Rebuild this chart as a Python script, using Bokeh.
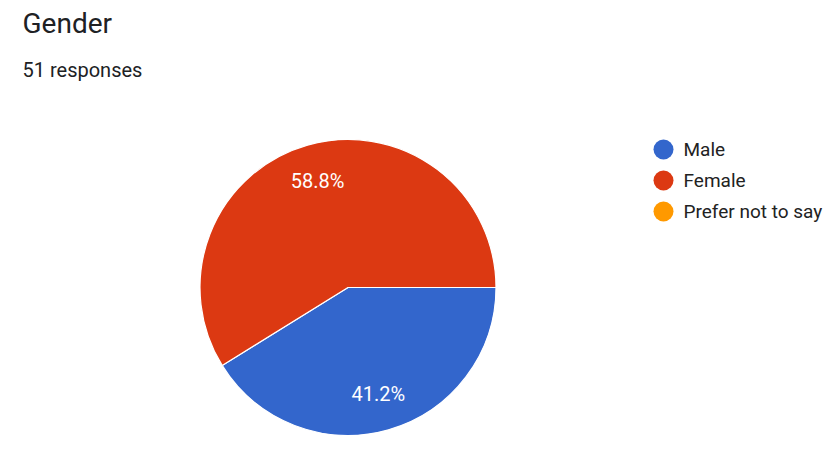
import math
from bokeh.plotting import figure
from bokeh.models import ColumnDataSource, Range1d
from bokeh.core.properties import value
from bokeh.embed import file_html
from bokeh.resources import INLINE

# ---- data ----
title_text = "Gender"
subtitle_text = "51 responses"
categories = ["Male", "Female", "Prefer not to say"]
counts = [21, 30, 0]
colors = ["#3366cc", "#dc3912", "#ff9900"]

# ---- layout constants ----
W, H = 826, 447
CX, CY, R = 347.5, H - 287.0, 148.0
LABEL_R = 0.75 * R
FONT = "Roboto"

p = figure(width=W, height=H, x_range=Range1d(0, W), y_range=Range1d(0, H),
           min_border=0, output_backend="svg", toolbar_location=None)
p.axis.visible = False
p.grid.visible = False
p.outline_line_color = None
p.background_fill_color = "white"
p.border_fill_color = "white"

total = sum(counts)
starts, ends, cols, lx, ly, labels = [], [], [], [], [], []
cum = 0
for c, col in zip(counts, colors):
    if c > 0:
        a0 = -2 * math.pi * (cum + c) / total
        a1 = -2 * math.pi * cum / total
        starts.append(a0)
        ends.append(a1)
        cols.append(col)
        mid = (a0 + a1) / 2
        lx.append(CX + LABEL_R * math.cos(mid))
        ly.append(CY + LABEL_R * math.sin(mid))
        labels.append(f"{100 * c / total:.1f}%")
    cum += c

src = ColumnDataSource(dict(start=starts, end=ends, color=cols))
p.wedge(x=CX, y=CY, radius=R, start_angle="start", end_angle="end",
        fill_color="color", line_color="white", line_width=1.2, source=src)

p.text(x=lx, y=ly, text=labels, text_color="white", text_font=value(FONT),
       text_font_size="20px", text_align="center", text_baseline="middle")

# title & subtitle
p.text(x=[22], y=[H - 23], text=[title_text], text_color="#202124", text_font=value(FONT),
       text_font_size="28px", text_align="left", text_baseline="middle")
p.text(x=[22], y=[H - 69.5], text=[subtitle_text], text_color="#202124", text_font=value(FONT),
       text_font_size="20px", text_align="left", text_baseline="middle")

# legend
leg_y = [H - (149 + 31 * i) for i in range(len(categories))]
p.scatter(x=[663] * len(categories), y=leg_y, size=20, marker="circle",
          fill_color=colors, line_color=None)
p.text(x=[683] * len(categories), y=leg_y, text=categories, text_color="#222222",
       text_font=value(FONT), text_font_size="19px", text_align="left",
       text_baseline="middle")

open("out.html", "w").write(file_html(p, INLINE))
